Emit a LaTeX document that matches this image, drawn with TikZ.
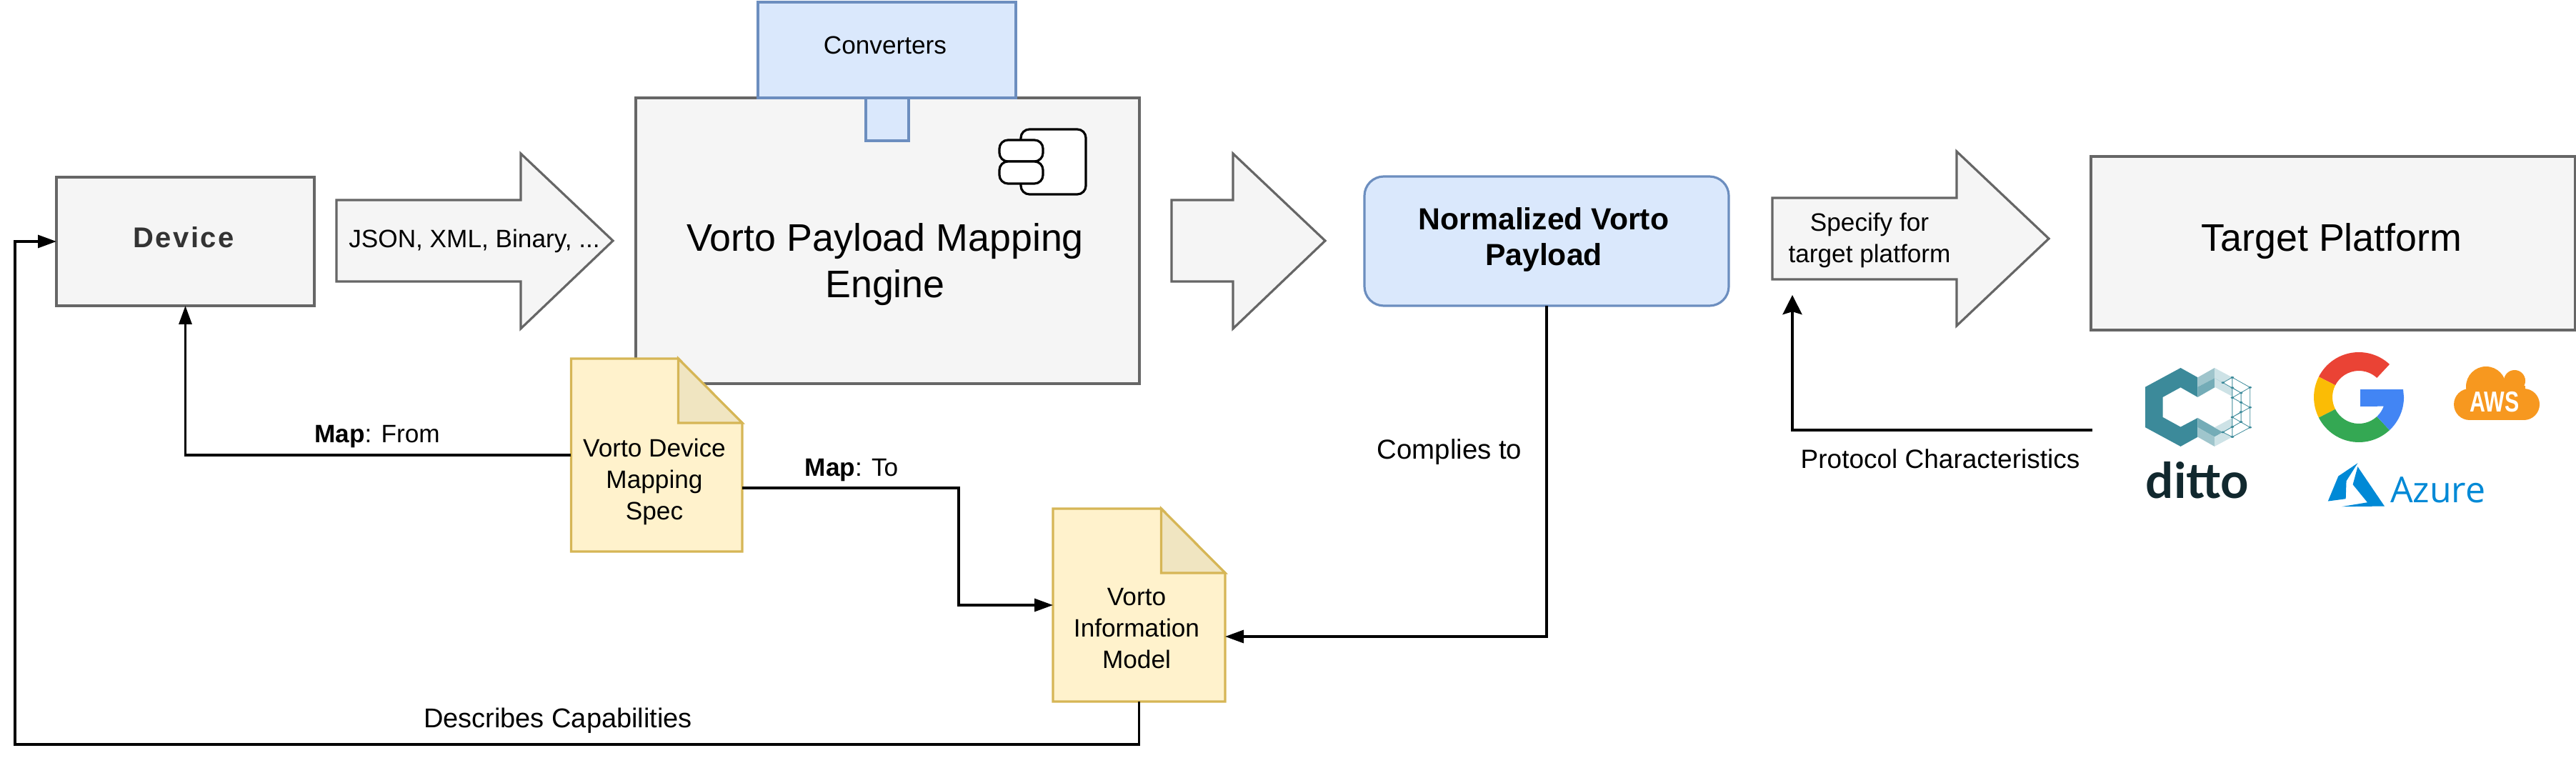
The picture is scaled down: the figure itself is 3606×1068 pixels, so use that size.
\documentclass[tikz,border=0pt]{standalone}
\usepackage{fontspec}
\setmainfont{Liberation Sans}
\newfontfamily\devfont[LetterSpace=6]{Liberation Sans}
\newfontfamily\dittofont{Lato}
\newfontfamily\azurefont{Open Sans}
\usetikzlibrary{arrows.meta,calc}
\definecolor{gfill}{HTML}{F5F5F5}
\definecolor{gline}{HTML}{666666}
\definecolor{bfill}{HTML}{DAE8FC}
\definecolor{bline}{HTML}{6C8EBF}
\definecolor{yfill}{HTML}{FFF2CC}
\definecolor{yline}{HTML}{D6B656}
\definecolor{yfold}{HTML}{F0E5C1}
\definecolor{teal1}{HTML}{3C8A9A}
\definecolor{teal2}{HTML}{9FC5CC}
\definecolor{teal3}{HTML}{CDE2E6}
\definecolor{teal4}{HTML}{74ACB7}
\definecolor{dittoink}{HTML}{11282E}
\definecolor{gred}{HTML}{EA4335}
\definecolor{gyellow}{HTML}{FBBC05}
\definecolor{ggreen}{HTML}{34A853}
\definecolor{gblue}{HTML}{4285F4}
\definecolor{awso}{HTML}{F7981F}
\definecolor{azureb}{HTML}{0089D6}
\tikzset{
  base/.style={inner sep=0pt,outer sep=0pt,line width=0.8pt},
  graybox/.style={base,draw=gline,fill=gfill},
  bluebox/.style={base,draw=bline,fill=bfill},
  blockarrow/.style={draw=gline,fill=gfill,line width=0.8pt,line join=miter},
  docbody/.style={draw=yline,fill=yfill,line width=0.8pt},
  docfold/.style={draw=yline,fill=yfold,line width=0.8pt,line join=miter},
  conn/.style={draw=black,line width=0.8pt,-{Triangle[length=6.5pt,width=4.5pt]}},
  connst/.style={draw=black,line width=0.8pt,-{Stealth[length=6.8pt,width=6.8pt,inset=1pt]}},
  lbl/.style={inner sep=0pt,outer sep=0pt,align=center,font=\fontsize{8.8}{11}\selectfont},
  icon/.style={draw=black,fill=white,line width=0.8pt,rounded corners=3pt},
}
\newcommand{\docshape}[4]{% x0 y0 x1 y1
  \pgfmathsetmacro{\fx}{#3-89.5}
  \pgfmathsetmacro{\fy}{#2+90}
  \draw[docbody] (#1,#2) -- (\fx,#2) -- (#3,\fy) -- (#3,#4) -- (#1,#4) -- cycle;
  \draw[docfold] (\fx,#2) -- (#3,\fy) -- (\fx,\fy) -- cycle;
}
\begin{document}
\begin{tikzpicture}[x=0.25pt,y=-0.25pt]
\useasboundingbox (0,0) rectangle (3606,1068);

% Device
\node[graybox,minimum width=90.25pt,minimum height=45pt] (device) at (259.5,338) {};
\node[lbl,text=black!80,font=\devfont\bfseries\fontsize{10}{11}\selectfont] (devicetext) at (257,332) {Device};

% Arrow 1
\draw[blockarrow] (471,280) -- (729,280) -- (729,215) -- (858,337) -- (729,460) -- (729,394) -- (471,394) -- cycle;
\node[lbl] (a1text) at (664,337) {JSON, XML, Binary, ...};

% Engine
\node[graybox,minimum width=176.25pt,minimum height=100pt] (engine) at (1242.5,337) {};
\node[lbl,font=\fontsize{13.44}{16.25}\selectfont] (enginetext) at (1239,370) {Vorto Payload Mapping\\Engine};

% Converters
\node[bluebox,minimum width=15pt,minimum height=15pt] (ctab) at (1242,167) {};
\node[bluebox,minimum width=90.25pt,minimum height=33.5pt] (conv) at (1241.5,70) {};
\node[lbl] (convtext) at (1239,63) {Converters};

% Component icon
\draw[icon] (1429,181) rectangle (1520,272);
\draw[icon] (1399,196) rectangle (1460,226);
\draw[icon] (1399,226) rectangle (1460,257);

% Arrow 2
\draw[blockarrow] (1640,280) -- (1726,280) -- (1726,215) -- (1855,337) -- (1726,460) -- (1726,394) -- (1640,394) -- cycle;

% Normalized
\node[bluebox,rounded corners=6.75pt,minimum width=127.5pt,minimum height=45.25pt] (norm) at (2165,337.5) {};
\node[lbl,font=\bfseries\fontsize{10.67}{12.5}\selectfont] (normtext) at (2161,335) {Normalized Vorto\\Payload};

% Arrow 3
\draw[blockarrow] (2481,277) -- (2739,277) -- (2739,212) -- (2868,334) -- (2739,456) -- (2739,391) -- (2481,391) -- cycle;
\node[lbl] (a3text) at (2617,336) {Specify for\\target platform};

% Target platform
\node[graybox,minimum width=169.5pt,minimum height=60.75pt] (target) at (3266,340.5) {};
\node[lbl,font=\fontsize{13.44}{16.25}\selectfont] (targettext) at (3264,338) {Target Platform};

% Documents
\docshape{799.5}{502}{1039}{772}
\node[inner sep=0pt,outer sep=0pt,minimum width=59.9pt,minimum height=67.5pt] (doc1) at (919.25,637) {};
\node[lbl] (doc1text) at (916,674) {Vorto Device\\Mapping\\Spec};
\docshape{1474}{712}{1715}{982}
\node[inner sep=0pt,outer sep=0pt,minimum width=60.25pt,minimum height=67.5pt] (doc2) at (1594.5,847) {};
\node[lbl] (doc2text) at (1591,880) {Vorto\\Information\\Model};

% Connectors
\draw[conn] (doc1.west) -| (device.south);
\coordinate (j1) at (1342,683);
\draw[conn] ([yshift=-11.5pt]doc1.east) -- (j1) |- (doc2.west);
\draw[conn] (norm.south) |- ([yshift=-11pt]doc2.east);
\coordinate (c1) at (21,1042);
\draw[conn] (doc2.south) |- (c1) |- (device.west);
\coordinate (pstart) at (2929,602);
\coordinate (pfoot) at (2509,602);
\coordinate (ptip) at (2509,413);
\draw[connst] (pstart) -- (pfoot) -- (ptip);

% Labels
\node[lbl,anchor=base] (mapfrom) at (528,619) {\textbf{Map}: From};
\node[lbl,anchor=base] (mapto) at (1192,666) {\textbf{Map}: To};
\node[lbl,anchor=base,font=\fontsize{9.6}{12}\selectfont] (complies) at (2029,643) {Complies to};
\node[lbl,anchor=base,font=\fontsize{9.5}{11}\selectfont] (describes) at (781,1018) {Describes Capabilities};
\node[lbl,anchor=base,font=\fontsize{9.25}{11}\selectfont] (protocol) at (2716,655) {Protocol Characteristics};

% Ditto logo
\begin{scope}[shift={(2900,440)},x=0.1131pt,y=-0.0833pt]
  \fill[teal1] (228,305) -- (337,225) -- (390,265) -- (390,348) -- (337,307) -- (282,348) -- (282,432) -- (337,473) -- (390,435) -- (390,515) -- (337,555) -- (228,475) -- cycle;
  \fill[teal2] (390,265) -- (442,225) -- (442,268) -- (390,305) -- cycle;
  \fill[teal3] (442,225) -- (497,265) -- (468,287) -- (442,268) -- cycle;
  \fill[teal4] (390,305) -- (442,268) -- (468,287) -- (390,348) -- cycle;
  \fill[teal3] (442,268) -- (497,310) -- (497,345) -- (442,305) -- cycle;
  \fill[teal4] (390,435) -- (468,495) -- (442,515) -- (390,475) -- cycle;
  \fill[teal2] (390,475) -- (442,515) -- (442,555) -- (390,515) -- cycle;
  \fill[teal3] (442,555) -- (442,515) -- (468,495) -- (497,515) -- cycle;
  \fill[teal3] (442,475) -- (497,435) -- (497,475) -- (468,495) -- cycle;
  \draw[teal1,line width=0.2pt] (497,265) -- (497,515) (524,330) -- (524,452) (552,307) -- (552,475)
    (468,287) -- (497,265) -- (552,307) -- (497,350) -- (552,391) -- (497,432) -- (552,475) -- (497,515) -- (468,495)
    (468,287) -- (524,330) (497,308) -- (524,330) (497,350) -- (524,370) (524,410) -- (497,432)
    (468,495) -- (524,452) (497,473) -- (524,452);
  \foreach \p in {(497,265),(552,307),(524,330),(468,287),(497,308),(497,350),(524,370),(552,391),(524,410),(497,432),(524,452),(552,475),(497,473),(468,495),(497,515)}
    \fill[teal1] \p ellipse[x radius=5,y radius=4];
\end{scope}
\node[inner sep=0pt,outer sep=0pt,anchor=base,text=dittoink,font=\dittofont\bfseries\fontsize{17.2}{20}\selectfont] (ditto) at (3076,697) {ditto};

% Google logo
\begin{scope}[shift={(3302,556)},yscale=-1]
  \fill[gred] (47:63) arc[start angle=47,end angle=153,radius=63] -- (153:37) arc[start angle=153,end angle=47,radius=37] -- cycle;
  \fill[gyellow] (153:63) arc[start angle=153,end angle=207,radius=63] -- (207:37) arc[start angle=207,end angle=153,radius=37] -- cycle;
  \fill[ggreen] (207:63) arc[start angle=207,end angle=313,radius=63] -- (313:37) arc[start angle=313,end angle=207,radius=37] -- cycle;
  \fill[gblue] (2,11) -- (62,11) -- (63,0) arc[start angle=0,end angle=-47,radius=63] -- (313:37) arc[start angle=-47,end angle=-20,radius=37] -- (2,-13) -- cycle;
\end{scope}

% AWS logo
\fill[awso] (3480,541) circle[radius=28];
\fill[awso] (3520,533) circle[radius=15];
\fill[awso] (3533,566) circle[radius=22];
\fill[awso] (3457,566) circle[radius=22];
\fill[awso] (3457,548) rectangle (3533,588);
\fill[awso] (3505,540) rectangle (3535,560);
\node[inner sep=0pt,outer sep=0pt,anchor=base,text=white,xscale=0.75,font=\bfseries\fontsize{10.1}{12}\selectfont] (aws) at (3492,576) {AWS};

% Azure logo
\begin{scope}[shift={(2900,440)},x=0.1131pt,y=-0.0833pt]
  \fill[azureb] (885,640) -- (968,806) -- (835,808) -- (915,790) -- (870,715) -- cycle;
  \fill[azureb] (885,625) -- (825,680) -- (793,785) -- (848,775) -- (850,700) -- cycle;
\end{scope}
\node[inner sep=0pt,outer sep=0pt,anchor=base west,text=azureb,font=\azurefont\fontsize{12.5}{14}\selectfont] (azure) at (3346,703) {Azure};
\end{tikzpicture}
\end{document}
